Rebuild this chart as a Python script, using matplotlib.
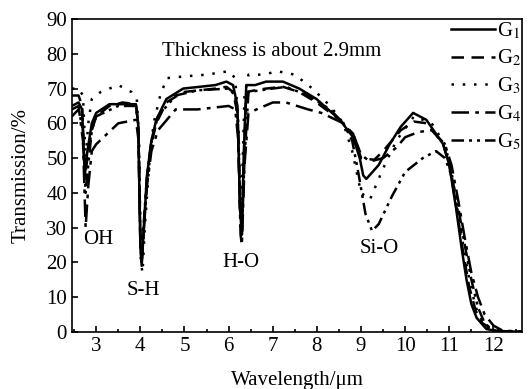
import numpy as np
import matplotlib.pyplot as plt
from matplotlib.ticker import MultipleLocator

plt.rcParams['font.family'] = ['Liberation Serif', 'DejaVu Serif']
plt.rcParams['mathtext.fontset'] = 'stix'

# wavelength (um) and transmission (%)
x1 = [2.45, 2.6, 2.68, 2.74, 2.8, 2.9, 3.0, 3.3, 3.6, 3.9, 3.95, 4.0, 4.03, 4.08, 4.15, 4.25, 4.36, 4.59, 4.97,
      5.34, 5.7, 5.95, 6.1, 6.2, 6.26, 6.3, 6.34, 6.4, 6.6, 6.85, 7.23, 7.6, 7.99, 8.52, 8.82, 8.97, 9.05, 9.12,
      9.4, 9.65, 9.9, 10.18, 10.48, 10.86, 11.0, 11.16, 11.28, 11.39, 11.5, 11.62, 11.84, 12.1, 12.65]
g1 = [65, 66, 64, 45, 52, 60, 63, 65.5, 65.5, 65.5, 60, 25, 19, 30, 45, 55, 61, 67, 70,
      70.5, 71, 72, 71, 65, 35, 28, 50, 71, 71, 72, 72, 70, 67, 61, 56, 50, 45, 44,
      48, 54, 59, 63, 61, 54, 48, 35, 24, 15, 8, 4, 0.8, 0.2, 0]

x2 = [2.45, 2.6, 2.68, 2.74, 2.8, 2.9, 3.0, 3.3, 3.6, 3.9, 3.95, 4.0, 4.03, 4.08, 4.15, 4.25, 4.36, 4.59, 4.97,
      5.34, 5.7, 5.95, 6.1, 6.2, 6.26, 6.3, 6.34, 6.4, 6.6, 6.85, 7.23, 7.6, 7.99, 8.52, 8.82, 8.9, 9.0, 9.3,
      9.5, 9.7, 9.9, 10.2, 10.5, 10.86, 11.0, 11.16, 11.3, 11.45, 11.6, 11.75, 11.95, 12.2, 12.65]
g2 = [68, 68, 65, 44, 50, 58, 62, 65, 66, 65.5, 60, 26, 20, 30, 44, 54, 60, 66, 69,
      69.5, 70, 70.5, 69, 63, 35, 30, 48, 69, 69.5, 70, 70.5, 69, 66, 61, 57, 54, 50, 49.5,
      52, 55, 58, 60.5, 60, 54, 48, 36, 24, 13, 6, 2.5, 0.8, 0.2, 0]

x3 = [2.45, 2.6, 2.7, 2.76, 2.82, 2.9, 3.1, 3.5, 3.8, 3.92, 3.97, 4.01, 4.05, 4.1, 4.2, 4.3, 4.45, 4.6, 5.0,
      5.5, 6.0, 6.15, 6.22, 6.27, 6.31, 6.36, 6.45, 6.8, 7.1, 7.5, 7.9, 8.3, 8.6, 8.8, 9.0, 9.2, 9.5, 9.8,
      10.2, 10.6, 10.9, 11.05, 11.2, 11.35, 11.5, 11.65, 11.85, 12.1, 12.65]
g3 = [70, 70, 68, 50, 60, 67, 69, 71, 69, 67, 55, 20, 17, 30, 48, 60, 68, 73, 73.5,
      74, 75, 73, 60, 35, 45, 68, 74, 74, 75, 74, 70, 65, 60, 52, 40, 38, 47, 55,
      62, 60, 54, 46, 34, 22, 12, 5, 1.5, 0.3, 0]

x4 = [2.45, 2.6, 2.7, 2.76, 2.82, 2.9, 3.0, 3.5, 3.9, 3.96, 4.0, 4.03, 4.08, 4.15, 4.25, 4.4, 4.8, 5.3,
      6.0, 6.15, 6.22, 6.27, 6.3, 6.36, 6.45, 7.0, 7.3, 7.8, 8.1, 8.6, 8.85, 9.0, 9.2, 9.5, 9.8, 10.0,
      10.3, 10.6, 10.9, 11.05, 11.2, 11.35, 11.5, 11.65, 11.8, 12.0, 12.2, 12.65]
g4 = [64, 65, 55, 30, 42, 52, 54, 60, 61, 55, 25, 20, 30, 42, 52, 58, 64, 64,
      65, 64, 55, 28, 25, 48, 63, 66, 66, 64, 63, 60, 56, 51, 49, 50, 53, 56,
      57.5, 58, 54, 48, 38, 27, 17, 10, 5, 1.8, 0.4, 0]

x5 = [2.45, 2.6, 2.7, 2.76, 2.82, 2.9, 3.0, 3.5, 3.9, 3.96, 4.0, 4.03, 4.08, 4.15, 4.25, 4.4, 4.8, 5.3,
      6.0, 6.15, 6.22, 6.27, 6.3, 6.36, 6.45, 7.0, 7.3, 7.8, 8.3, 8.6, 8.8, 8.95, 9.1, 9.25, 9.4, 9.7, 10.0,
      10.4, 10.7, 10.9, 11.05, 11.2, 11.35, 11.5, 11.65, 11.8, 11.95, 12.1, 12.65]
g5 = [62, 64, 58, 40, 48, 58, 62, 65, 65, 58, 28, 21, 32, 45, 55, 62, 68, 69.5,
      70, 68, 58, 30, 28, 50, 69, 70, 70.5, 68, 64, 60, 55, 45, 34, 29, 31, 39, 46,
      50, 52, 50, 45, 36, 25, 15, 7, 2.5, 0.8, 0.2, 0]

labels = ['G$_1$', 'G$_2$', 'G$_3$', 'G$_4$', 'G$_5$']

fig = plt.figure(figsize=(5.29, 3.89), dpi=100)
ax = fig.add_axes([0.136, 0.147, 0.851, 0.804])

ax.plot(x1, g1, color='black', lw=1.8, ls='-', label=labels[0])
ax.plot(x2, g2, color='black', lw=1.8, ls=(0, (5, 3)), label=labels[1])
ax.plot(x3, g3, color='black', lw=1.8, ls=(0, (1, 3.5)), label=labels[2])
ax.plot(x4, g4, color='black', lw=1.8, ls=(0, (7, 2.5, 1.5, 2.5)), label=labels[3])
ax.plot(x5, g5, color='black', lw=1.8, ls=(0, (5, 2, 1.2, 2, 1.2, 2)), label=labels[4])

ax.set_xlim(2.45, 12.65)
ax.set_ylim(0, 90)
ax.xaxis.set_major_locator(MultipleLocator(1))
ax.xaxis.set_minor_locator(MultipleLocator(0.5))
ax.yaxis.set_major_locator(MultipleLocator(10))
ax.tick_params(which='both', direction='in', top=False, right=False, labelsize=15)
ax.tick_params(which='major', length=4, width=1.2)
ax.tick_params(which='minor', length=2.5, width=1.2)
for s in ax.spines.values():
    s.set_linewidth(1.2)

ax.set_xlabel('Wavelength/μm', fontsize=15, labelpad=11)
ax.set_ylabel('Transmission/%', fontsize=15, labelpad=11)

ax.text(6.97, 80.7, 'Thickness is about 2.9mm', fontsize=15, ha='center', va='center')
ax.text(3.04, 26.5, 'OH', fontsize=15, ha='center', va='center')
ax.text(4.06, 12, 'S-H', fontsize=15, ha='center', va='center')
ax.text(6.29, 20, 'H-O', fontsize=15, ha='center', va='center')
ax.text(9.42, 24, 'Si-O', fontsize=15, ha='center', va='center')

ax.legend(loc='upper right', frameon=False, fontsize=15, handlelength=2.1,
          handletextpad=0.1, labelspacing=0.35, borderaxespad=0.0, borderpad=0.05)

fig.savefig('out.png', dpi=100)
